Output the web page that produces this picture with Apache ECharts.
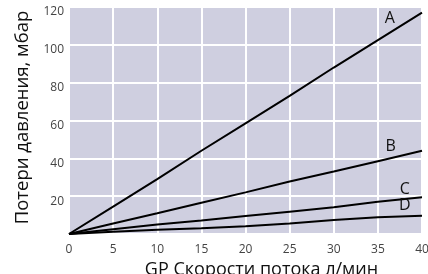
<!DOCTYPE html>
<html>
<head>
<meta charset="utf-8">
<script src="https://cdn.jsdelivr.net/npm/echarts@6/dist/echarts.min.js"></script>
<style>html,body{margin:0;padding:0;background:#fff;}#c{width:428px;height:274px;}</style>
</head>
<body>
<div id="c"></div>
<script>
const flow = [0, 5, 10, 15, 20, 25, 30, 35, 40];
const seriesNames = ['A', 'B', 'C', 'D'];
const lossA = [0, 14.5, 29, 44, 58.5, 73, 88, 102.5, 117];
const lossB = [0, 5.6, 11, 16.5, 22, 27.8, 33, 38.5, 44];
const lossC = [0, 2.5, 5, 7.2, 9.5, 11.8, 14.1, 17, 19.4];
const lossD = [0, 1.2, 2.2, 3.1, 4.1, 5.6, 7.4, 8.8, 9.7];
const labelCoords = [[36.35, 113.8], [36.45, 46.3], [38.05, 23.5], [38.05, 15.3]];
const xTicks = [0, 5, 10, 15, 20, 25, 30, 35, 40];
const yTicks = [0, 20, 40, 60, 80, 100, 120];
const xTitle = 'GP Скорости потока л/мин';
const yTitle = 'Потери давления, мбар';

const values = [lossA, lossB, lossC, lossD];
const font = '"Open Sans", "Noto Sans", sans-serif';

const chart = echarts.init(document.getElementById('c'), null, {renderer: 'canvas'});
chart.setOption({
  animation: false,
  grid: {left: 69, right: 6, top: 7, bottom: 40, show: true, backgroundColor: '#cfcfe0', borderWidth: 0,
    containLabel: false, outerBoundsMode: 'none'},
  xAxis: {
    type: 'value', min: xTicks[0], max: xTicks[xTicks.length - 1], interval: 5,
    name: xTitle, nameLocation: 'middle', nameGap: 18,
    nameTextStyle: {fontFamily: font, fontSize: 18, color: '#111', padding: [0, 0, 0, 32]},
    axisLine: {show: false}, axisTick: {show: false},
    axisLabel: {fontFamily: font, fontSize: 12, color: '#444', margin: 10},
    splitLine: {show: true, lineStyle: {color: '#ffffff', width: 2}}
  },
  yAxis: {
    type: 'value', min: yTicks[0], max: yTicks[yTicks.length - 1], interval: 20,
    name: yTitle, nameLocation: 'middle', nameGap: 31, nameRotate: 90,
    nameTextStyle: {fontFamily: font, fontSize: 18.5, color: '#111', padding: [0, 0, 0, 6]},
    axisLine: {show: false}, axisTick: {show: false},
    axisLabel: {fontFamily: font, fontSize: 12, color: '#444', margin: 5, verticalAlign: 'top', lineHeight: 10,
      formatter: v => v === 0 ? '' : String(v)},
    splitLine: {show: true, lineStyle: {color: '#ffffff', width: 2}}
  },
  series: seriesNames.map((n, i) => ({
    name: n, type: 'line', showSymbol: false, symbol: 'none',
    data: flow.map((x, j) => [x, values[i][j]]),
    lineStyle: {color: '#000', width: 2},
    markPoint: {
      symbol: 'circle', symbolSize: 0,
      data: [{coord: labelCoords[i], value: n}],
      label: {show: true, position: 'inside', formatter: n, fontFamily: font, fontSize: 16, color: '#111'}
    }
  }))
});
</script>
</body>
</html>
